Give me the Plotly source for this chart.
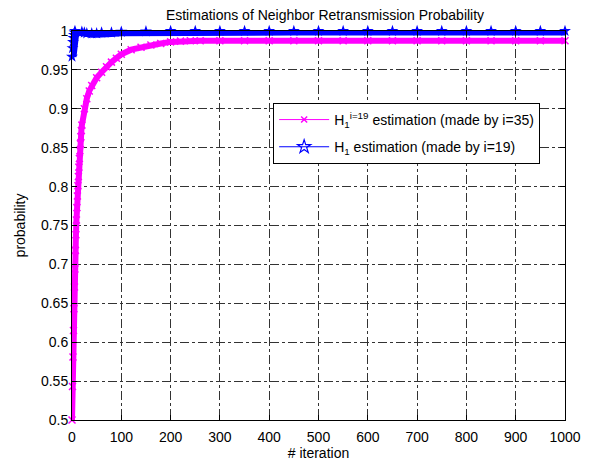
import plotly.graph_objects as go

# ---- data ----
pink_iter = [0, 1, 2, 3, 4, 5, 6, 7, 8, 9, 10, 11, 12, 13, 14, 15, 16, 17, 18, 19, 20,
             25, 30, 35, 40, 50, 60, 70, 80, 90, 100, 120, 140, 160, 180, 200, 220, 240,
             260, 300, 350, 400, 450, 500, 550, 600, 650, 700, 750, 800, 850, 900, 950, 1000]
pink_val = [0.500, 0.543, 0.581, 0.615, 0.643, 0.671, 0.694, 0.718, 0.738, 0.757, 0.773,
            0.788, 0.801, 0.813, 0.825, 0.836, 0.846, 0.855, 0.864, 0.872, 0.879,
            0.900, 0.913, 0.923, 0.930, 0.940, 0.947, 0.954, 0.960, 0.965, 0.970,
            0.976, 0.979, 0.982, 0.984, 0.986, 0.987, 0.9875,
            0.9875, 0.9875, 0.9875, 0.9875, 0.9875, 0.9875, 0.9875, 0.9875, 0.9875,
            0.9875, 0.9875, 0.9875, 0.9875, 0.9875, 0.9875, 0.9875]

blue_iter = [0, 1, 2, 3, 4, 5, 6, 8, 10, 12, 15, 20, 25, 30, 40, 50, 60, 80, 100, 150,
             200, 250, 300, 350, 400, 450, 500, 550, 600, 650, 700, 750, 800, 850, 900,
             950, 1000]
blue_val = [0.967, 0.978, 0.986, 0.991, 0.995, 0.998, 1.000, 1.002, 1.003, 1.003, 1.002,
            0.999, 0.998, 0.997, 0.997, 0.997, 0.998, 0.998, 0.999, 0.9995,
            1.000, 1.000, 1.000, 1.000, 1.000, 1.000, 1.000, 1.000, 1.000, 1.000,
            1.000, 1.000, 1.000, 1.000, 1.000, 1.000, 1.000]

x_ticks = [0, 100, 200, 300, 400, 500, 600, 700, 800, 900, 1000]
y_ticks = [0.5, 0.55, 0.6, 0.65, 0.7, 0.75, 0.8, 0.85, 0.9, 0.95, 1.0]
y_tick_labels = ["0.5", "0.55", "0.6", "0.65", "0.7", "0.75", "0.8", "0.85", "0.9", "0.95", "1"]

PINK = "#ff00ff"
BLUE = "#0000ff"
FONT = "Liberation Sans, Arial, Helvetica, sans-serif"

fig = go.Figure()

# data traces (thick band mimics the dense per-iteration markers)
fig.add_trace(go.Scatter(x=pink_iter, y=pink_val, mode="lines+markers",
                         line=dict(color=PINK, width=6),
                         marker=dict(symbol="x-thin", size=7, color=PINK,
                                     line=dict(color=PINK, width=1.5)),
                         showlegend=False, cliponaxis=False))
fig.add_trace(go.Scatter(x=blue_iter, y=blue_val, mode="lines+markers",
                         line=dict(color=BLUE, width=9),
                         marker=dict(symbol="star", size=9, color=BLUE),
                         showlegend=False, cliponaxis=False))

# legend entries (thin line + single marker, as in the reference legend)
fig.add_trace(go.Scatter(x=[None], y=[None], mode="lines+markers",
                         line=dict(color=PINK, width=1),
                         marker=dict(symbol="x-thin", size=6, color=PINK,
                                     line=dict(color=PINK, width=1.5)),
                         legendgroup="g1",
                         name="H<sub>1</sub><sup>i=19</sup> estimation (made by i=35)"))
fig.add_trace(go.Scatter(x=[None], y=[None], mode="lines+markers",
                         line=dict(color=BLUE, width=1),
                         marker=dict(symbol="star-open", size=10, color=BLUE,
                                     line=dict(color=BLUE, width=1.2)),
                         legendgroup="g2",
                         name="H<sub>1</sub> estimation (made by i=19)"))

axis_common = dict(
    showline=True, linecolor="black", linewidth=1, mirror="allticks",
    ticks="inside", ticklen=5, tickcolor="black",
    showgrid=True, gridcolor="#333333", griddash="dashdot", gridwidth=0.8,
    zeroline=False, automargin=False,
    tickfont=dict(family=FONT, size=14, color="black"),
)

fig.update_xaxes(range=[0, 1000], tickvals=x_ticks, ticklabelstandoff=4,
                 title=dict(text="# iteration", font=dict(family=FONT, size=14, color="black"),
                            standoff=4),
                 **axis_common)
fig.update_yaxes(range=[0.5, 1.0], tickvals=y_ticks, ticktext=y_tick_labels,
                 title=dict(text="probability", font=dict(family=FONT, size=14, color="black"),
                            standoff=12),
                 **axis_common)

# page has an 8px body margin: figure is offset by (8, 8)
fig.update_layout(
    width=588, height=454,
    margin=dict(l=64, r=31, t=23, b=42),
    paper_bgcolor="white", plot_bgcolor="white",
    title=dict(text="Estimations of Neighbor Retransmission Probability",
               x=317 / 588, xanchor="center", y=1 - 7 / 454, yanchor="middle",
               font=dict(family=FONT, size=14, color="black")),
    legend=dict(x=0.408, y=0.815, xanchor="left", yanchor="top",
                bgcolor="white", bordercolor="black", borderwidth=1,
                font=dict(family=FONT, size=14, color="black"),
                itemwidth=50, tracegroupgap=6, traceorder="grouped"),
    font=dict(family=FONT),
)

fig.write_html("out.html")
